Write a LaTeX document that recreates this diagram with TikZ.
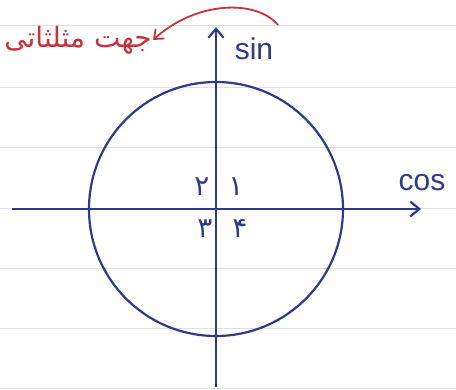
\documentclass[tikz,border=0pt]{standalone}
\usepackage{fontspec}
\setmainfont{Liberation Sans}
\newfontfamily\farsi[Script=Arabic]{DejaVu Sans}
\TeXXeTstate=1
\usepackage{xcolor}
\definecolor{ink}{HTML}{2E3A8C}
\definecolor{redink}{HTML}{C8323C}
\usepackage{tikz}
\usetikzlibrary{calc,positioning,arrows.meta}

\begin{document}
\begin{tikzpicture}[x=1pt,y=1pt,
    axis/.style={ink, line width=2.2pt, -{Straight Barb[length=9pt,width=15pt]}},
    quad/.style={ink, font=\farsi\fontsize{28}{28}\selectfont, inner sep=0pt}]
  \useasboundingbox (-216,-181) rectangle (240,209);
  % Ruled paper
  \foreach \y in {184,122,62,1,-59,-119,-179} {
    \draw[black!12, line width=0.8pt] (-216,\y) -- (240,\y);
  }
  % Unit circle
  \coordinate (o) at (0,0);
  \draw[ink, line width=2.2pt] (o) circle (127);
  % Axes
  \coordinate (west) at (-204,0);
  \coordinate (east) at (205,0);
  \coordinate (south) at (0,-178);
  \coordinate (north) at (0,182);
  \draw[axis] (west) -- (east);
  \draw[axis] (south) -- (north);
  \node[ink, font=\fontsize{30}{30}\selectfont] (sin) at (38,160) {sin};
  \node[ink, font=\fontsize{30}{30}\selectfont] (cos) at (206,26) {cos};
  % Quadrants
  \node[quad] (q1) at (20,22) {۱};
  \node[quad] (q2) at (-14,22) {۲};
  \node[quad] (q3) at (-11,-20) {۳};
  \node[quad] (q4) at (24,-20) {۴};
  % Direction label
  \node[redink, font=\farsi\fontsize{28}{28}\selectfont, anchor=east, inner sep=1pt] (dir) at (-63,169)
    {\beginR جهت مثلثاتی\endR};
  \coordinate (bend) at (62,184);
  \draw[redink, line width=1.8pt, -{Straight Barb[length=8pt,width=13pt]}]
    (bend) .. controls (40,210) and (-20,208) .. (dir.east);
\end{tikzpicture}
\end{document}
